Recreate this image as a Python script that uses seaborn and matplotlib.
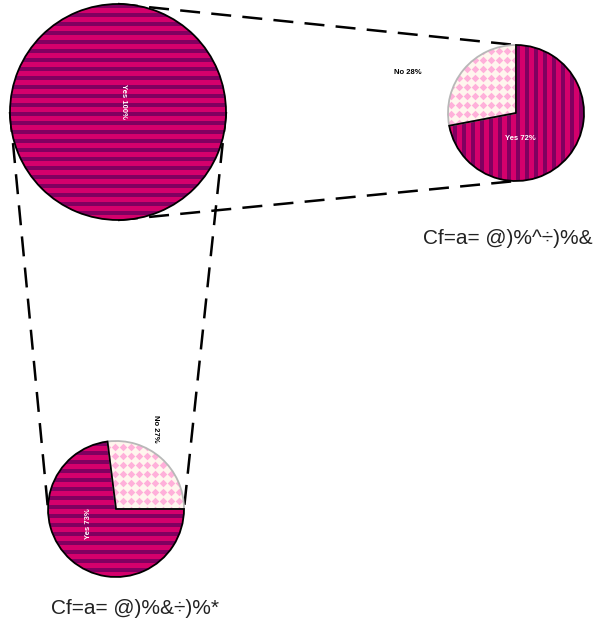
import matplotlib
matplotlib.use("Agg")
import numpy as np
import matplotlib.pyplot as plt
from matplotlib.patches import Rectangle
import seaborn as sns

sns.set_theme(style="white")
plt.rcParams['font.family'] = ['Liberation Sans Narrow', 'Liberation Sans', 'DejaVu Sans']

# data
big_labels = ['Yes 100%']
big_values = [100]

right_labels = ['No 28%', 'Yes 72%']
right_values = [28, 72]
right_title = 'Cf=a= @)%^÷)%&'

bottom_labels = ['No 27%', 'Yes 73%']
bottom_values = [27, 73]
bottom_title = 'Cf=a= @)%&÷)%*'

magenta = '#d4006c'
purple = '#800060'
cream = '#fff6ee'
pink = '#ffb0da'

W, H = 599, 635
fig = plt.figure(figsize=(W / 100, H / 100), dpi=100)
ax = fig.add_axes([0, 0, 1, 1])

# pie layout in pixels (y measured from top)
big_c, big_r = (118, 112), 108
right_c, right_r = (516, 113), 68
bot_c, bot_r = (116, 509), 68


def to_data(c):
    return (c[0], H - c[1])


def stripes(wedge, cx, cy, r, vertical):
    # magenta bands over a purple wedge, clipped to the wedge
    for k in np.arange(-r - 9, r + 9, 9):
        if vertical:
            rect = Rectangle((cx + k, cy - r - 2), 4.8, 2 * r + 4)
        else:
            rect = Rectangle((cx - r - 2, cy + k), 2 * r + 4, 4.8)
        rect.set_facecolor(magenta)
        rect.set_linewidth(0)
        rect.set_zorder(3)
        ax.add_patch(rect)
        rect.set_clip_path(wedge)


def dots(wedge, cx, cy, r):
    xs, ys = np.meshgrid(np.arange(cx - r, cx + r, 8), np.arange(cy - r, cy + r, 9))
    sc = ax.scatter(xs.ravel() + 3, ys.ravel() + 4, marker='D', s=15, color=pink,
                    linewidths=0, zorder=3)
    sc.set_clip_path(wedge)


def draw_pie(values, center, radius, start, vertical):
    cx, cy = to_data(center)
    n = len(values)
    faces = [purple] if n == 1 else [cream, purple]
    wedges, _ = ax.pie(values, center=(cx, cy), radius=radius, startangle=start,
                       counterclock=True, frame=True, colors=faces,
                       wedgeprops=dict(linewidth=0, zorder=2))
    for i, w in enumerate(wedges):
        if n == 2 and i == 0:
            dots(w, cx, cy, radius)
        else:
            stripes(w, cx, cy, radius, vertical)
    # outline
    outl, _ = ax.pie(values, center=(cx, cy), radius=radius, startangle=start,
                     counterclock=True, frame=True,
                     wedgeprops=dict(fill=False, linewidth=1.3, zorder=4))
    for i, w in enumerate(outl):
        w.set_edgecolor('black' if (n == 1 or i == 1) else '#b8b8b8')
        w.set_zorder(4)
    return wedges


draw_pie(big_values, big_c, big_r, 90, False)
draw_pie(right_values, right_c, right_r, 90, True)
draw_pie(bottom_values, bot_c, bot_r, 0, False)

# connector lines: top/bottom of big pie to right pie, left/right to bottom pie
dash = dict(color='black', linewidth=1.8, linestyle=(0, (8, 4.5)), zorder=1)
bx, by = to_data(big_c)
rx, ry = to_data(right_c)
qx, qy = to_data(bot_c)
ax.plot([bx, rx], [by + big_r, ry + right_r], **dash)
ax.plot([bx, rx], [by - big_r, ry - right_r], **dash)
ax.plot([bx - big_r, qx - bot_r], [by, qy], **dash)
ax.plot([bx + big_r, qx + bot_r], [by, qy], **dash)

# slice labels
lab = dict(fontsize=5.5, ha='center', va='center', fontweight='bold', zorder=5)
ax.text(bx + 5, by + 10, big_labels[0], rotation=-90, color='white', **lab)
ax.text(rx - 108, ry + 40, right_labels[0], color='black', **lab)
ax.text(rx + 4, ry - 25, right_labels[1], color='white', **lab)
ax.text(qx + 40, qy + 80, bottom_labels[0], rotation=-90, color='black', **lab)
ax.text(qx - 27, qy - 15, bottom_labels[1], rotation=90, color='white', **lab)

# titles
ax.text(rx - 8, H - 238, right_title, fontsize=15, ha='center', va='center', color='#222222')
ax.text(qx + 19, H - 608, bottom_title, fontsize=15, ha='center', va='center', color='#222222')

ax.set_xlim(0, W)
ax.set_ylim(0, H)
ax.set_aspect('equal')
ax.axis('off')

fig.savefig('out.png', dpi=100)
